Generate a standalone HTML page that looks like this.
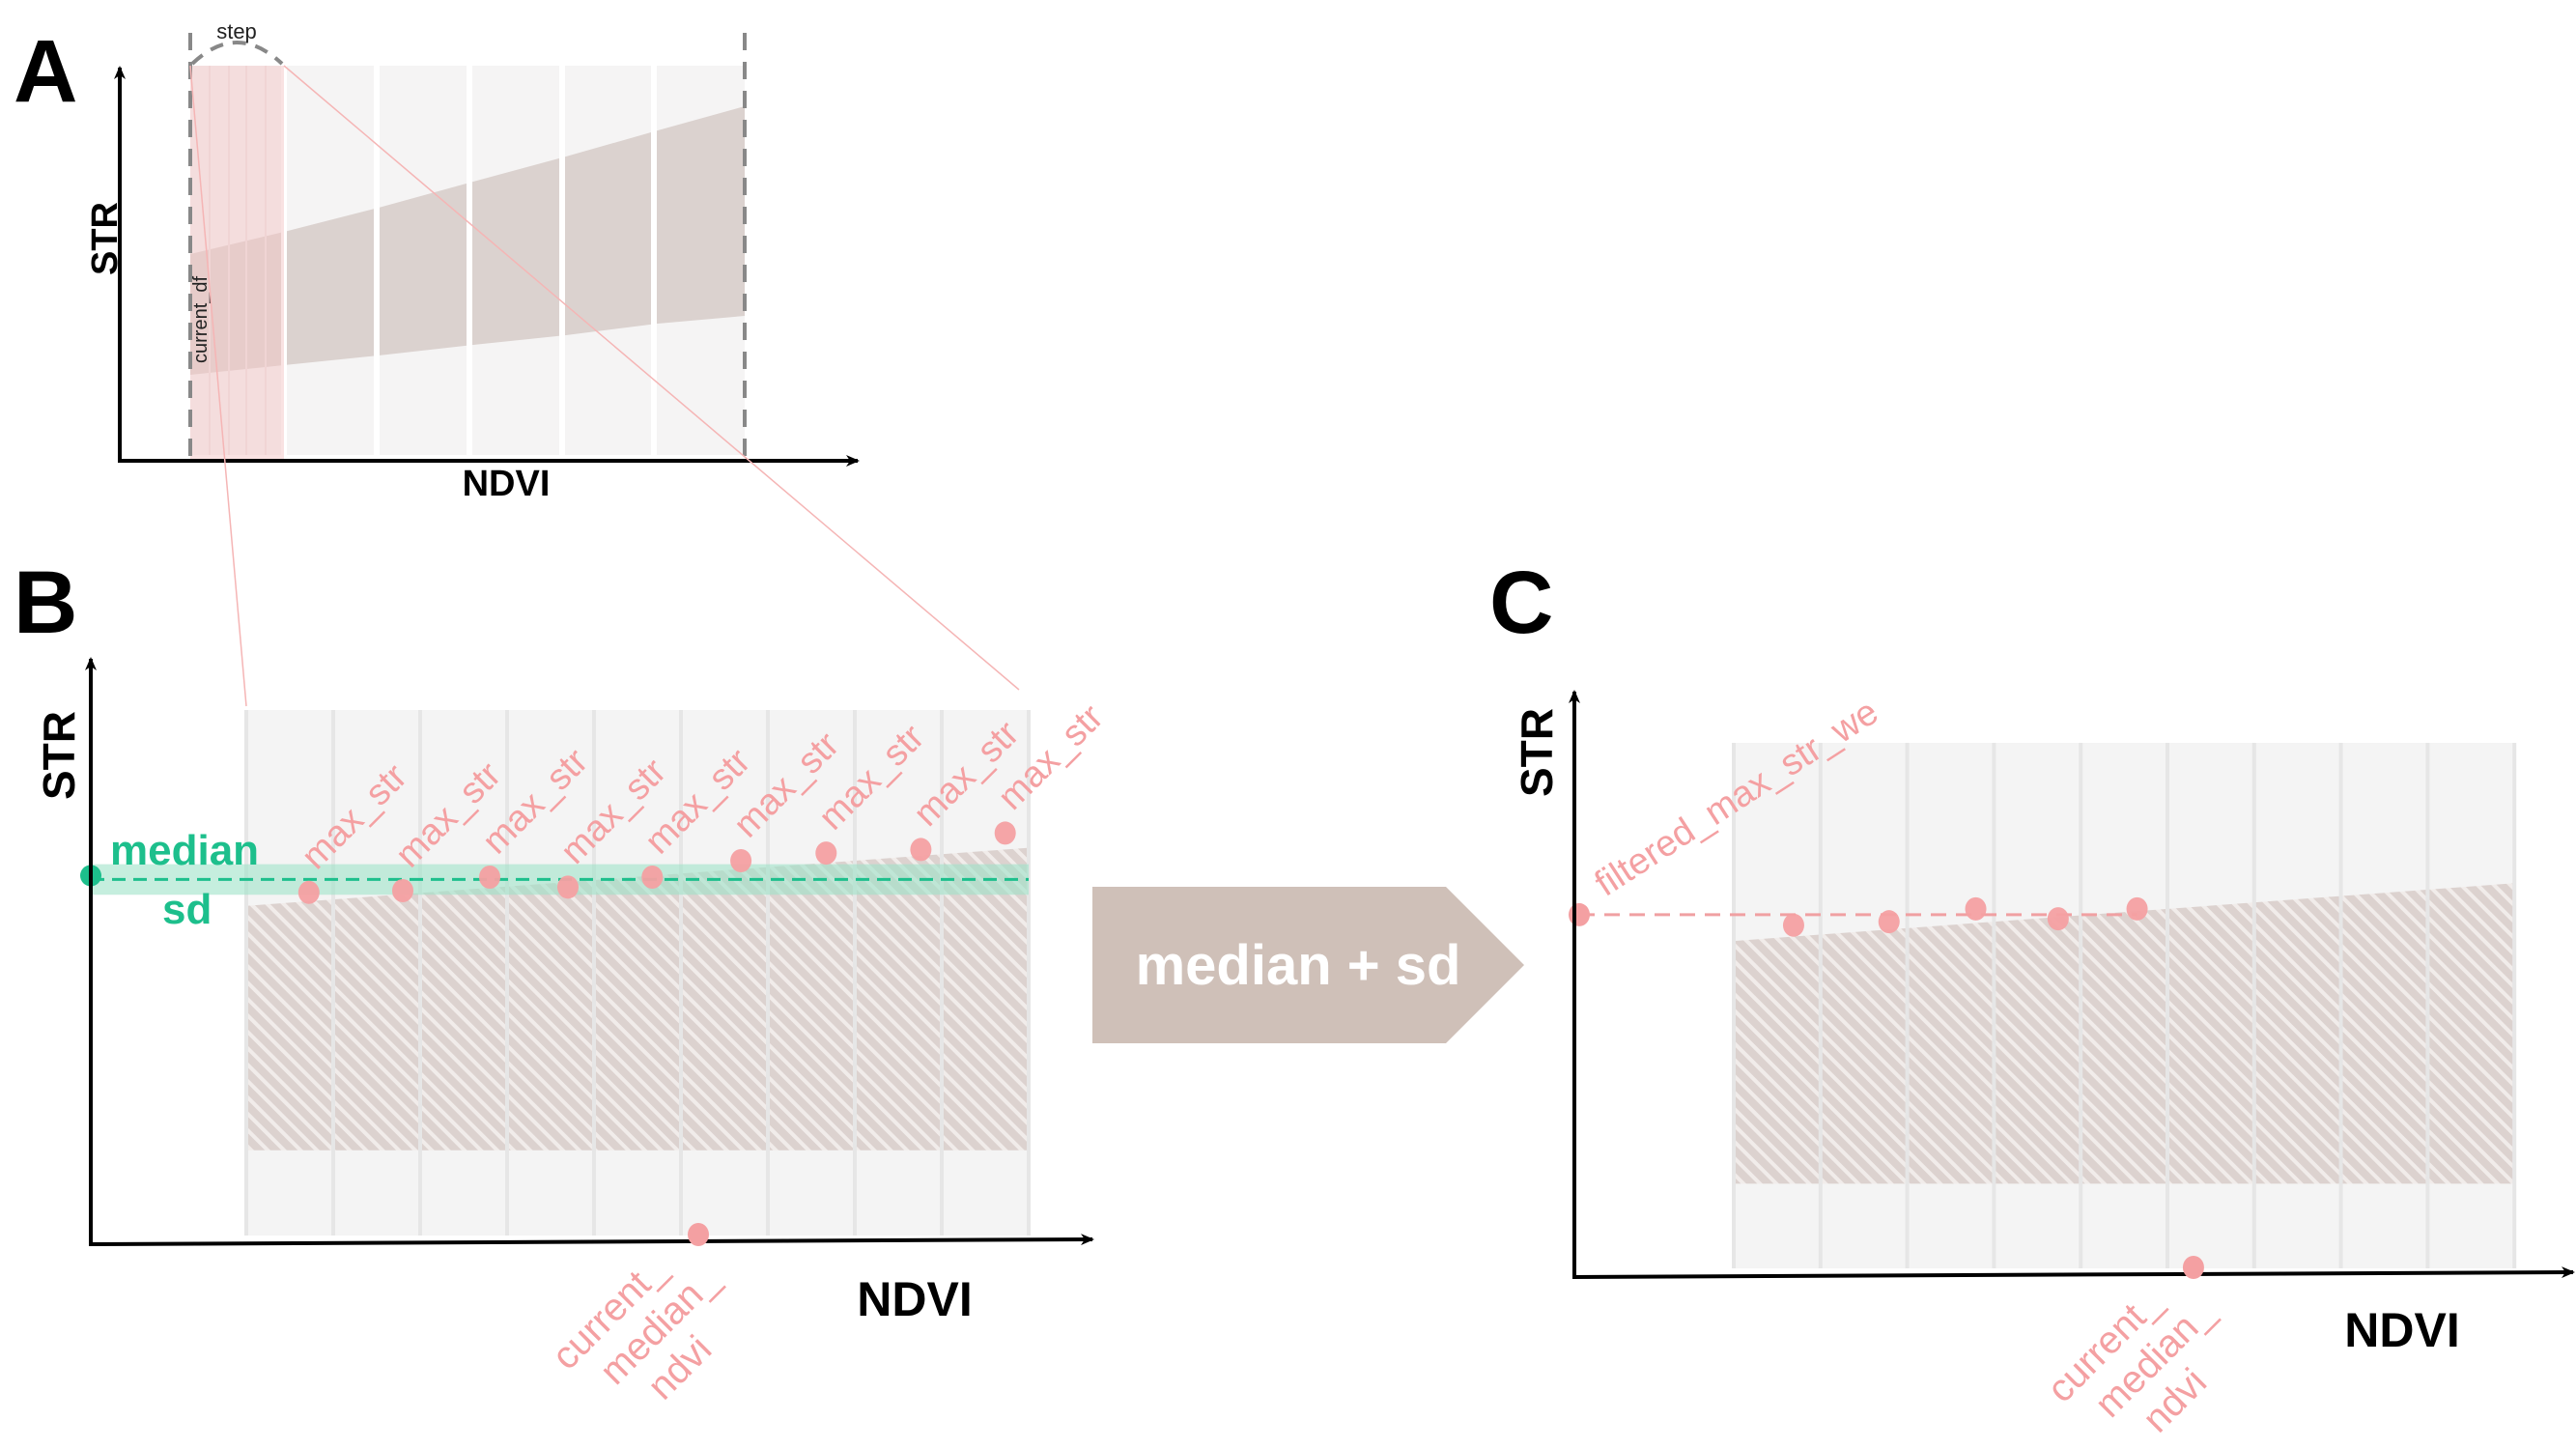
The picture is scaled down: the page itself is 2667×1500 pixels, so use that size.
<!DOCTYPE html>
<html><head><meta charset="utf-8"><style>
html,body{margin:0;padding:0;background:#fff;}
svg{display:block;}
text{font-family:"Liberation Sans",sans-serif;}
</style></head><body>
<svg id="fig" width="2667" height="1500" viewBox="0 0 2667 1500" xmlns="http://www.w3.org/2000/svg">
<defs>
<pattern id="hatch" patternUnits="userSpaceOnUse" width="12" height="12" patternTransform="rotate(-45)">
<rect width="12" height="12" fill="#dcd2cf"/>
<rect width="4" height="12" fill="#f1ecea"/>
</pattern>
<marker id="arr" markerWidth="14" markerHeight="12" refX="12" refY="6" orient="auto" markerUnits="userSpaceOnUse">
<path d="M0,0 L14,6 L0,12 L4,6 Z" fill="#000"/>
</marker>
</defs>

<!-- Panel A -->
<g>
<text x="14" y="105" font-size="92" font-weight="bold">A</text>
<rect x="197" y="68" width="574" height="403" fill="#f5f4f4"/>
<polygon points="197,263 294,240 392,215 490,188 586,162 681,135 771,110 771,327 681,335 586,347 490,357 392,368 294,378 197,388" fill="#dbd2cf"/>
<g stroke="#fff" stroke-width="6">
<line x1="294" y1="68" x2="294" y2="471"/><line x1="390" y1="68" x2="390" y2="471"/><line x1="486" y1="68" x2="486" y2="471"/><line x1="582" y1="68" x2="582" y2="471"/><line x1="677" y1="68" x2="677" y2="471"/>
</g>
<rect x="197" y="68" width="97" height="408" fill="#f4c6c6" opacity="0.5"/>
<g stroke="#f0d4d4" stroke-width="2"><line x1="217" y1="68" x2="217" y2="471"/><line x1="237" y1="68" x2="237" y2="471"/><line x1="255" y1="68" x2="255" y2="471"/><line x1="275" y1="68" x2="275" y2="471"/></g>
<line x1="197" y1="34" x2="197" y2="476" stroke="#888" stroke-width="4" stroke-dasharray="18,12"/>
<line x1="771" y1="34" x2="771" y2="476" stroke="#888" stroke-width="4" stroke-dasharray="18,12"/>
<path d="M199,66 Q245,22 292,66" fill="none" stroke="#888" stroke-width="4" stroke-dasharray="14,10"/>
<text x="245" y="40" font-size="22" text-anchor="middle" fill="#222">step</text>
<text transform="translate(214,376) rotate(-90)" font-size="20" fill="#222">current_df</text>
<line x1="124" y1="478" x2="124" y2="70" stroke="#000" stroke-width="4" marker-end="url(#arr)"/>
<line x1="122" y1="477" x2="888" y2="477" stroke="#000" stroke-width="4" marker-end="url(#arr)"/>
<text transform="translate(121,247) rotate(-90)" font-size="38" font-weight="bold" text-anchor="middle">STR</text>
<text x="524" y="513" font-size="38" font-weight="bold" text-anchor="middle">NDVI</text>
</g>
<line x1="197" y1="68" x2="255" y2="731" stroke="#f5b5b5" stroke-width="1.5"/>
<line x1="294" y1="68" x2="1055" y2="714" stroke="#f5b5b5" stroke-width="1.5"/>

<!-- Panel B -->
<g id="panelB">
<text x="14" y="655" font-size="92" font-weight="bold">B</text>
</g>

<!-- Arrow -->
<g>
<polygon points="1131,918 1497,918 1578,999 1497,1080 1131,1080" fill="#cfc0b8"/>
<text x="1344" y="1019" font-size="58" font-weight="bold" fill="#fff" text-anchor="middle">median + sd</text>
</g>

<!-- Panel C -->
<g id="panelC">
<text x="1542" y="655" font-size="92" font-weight="bold">C</text>
</g>
</svg>
<script>
// Panel B data
const bColumns = [0,1,2,3,4,5,6,7,8];
const bNdvi = [0.72,1.8,2.8,3.7,4.67,5.69,6.67,7.76,8.73];
const bMaxStr = [59.9,60.2,62.5,60.8,62.5,65.3,66.6,67.2,70.0];
const bMedian = 62.1;
const bSd = 2.6;
const bBandTop = [57.6,67.5];
const bBandBottom = 16;
const bCurrentNdvi = 5.2;
// Panel C data
const cColumns = [0,1,2,3,4,5,6,7,8];
const cNdvi = [0.69,1.79,2.79,3.74,4.65];
const cMaxStr = [60.3,60.9,63.1,61.4,63.1];
const cFiltered = 62.1;
const cBandTop = [57.6,67.5];
const cBandBottom = 16;
const cCurrentNdvi = 5.3;

const NS = 'http://www.w3.org/2000/svg';
function mk(parent, tag, attrs, text){
  const e = document.createElementNS(NS, tag);
  for (const k in attrs) e.setAttribute(k, attrs[k]);
  if (text !== undefined) e.textContent = text;
  parent.appendChild(e);
  return e;
}

function drawPanel(g, cfg){
  const x = v => cfg.x0 + v * cfg.colW;
  const y = v => cfg.yAxis0 - v * cfg.yPer;
  const nCols = cfg.columns.length;
  const bg = mk(g, 'rect', {x: x(0), y: cfg.plotTop, width: nCols*cfg.colW, height: cfg.plotBot - cfg.plotTop, fill: '#f4f4f4'});
  
  
  const band = mk(g, 'polygon', {points: `${x(0)},${y(cfg.bandTop[0])} ${x(nCols)},${y(cfg.bandTop[1])} ${x(nCols)},${y(cfg.bandBottom)} ${x(0)},${y(cfg.bandBottom)}`, fill: 'url(#hatch)'});
  
  
  cfg.columns.forEach(c => {
    const l = mk(g, 'line', {x1: x(c), y1: cfg.plotTop, x2: x(c), y2: cfg.plotBot, stroke: '#e6e6e6', 'stroke-width': 4});
    
    
  });
  const lr = mk(g, 'line', {x1: x(nCols), y1: cfg.plotTop, x2: x(nCols), y2: cfg.plotBot, stroke: '#e6e6e6', 'stroke-width': 4});
  
  
  cfg.extra && cfg.extra(x, y);
  const ya = mk(g, 'line', {x1: cfg.axisX, y1: cfg.yAxis0 + 2, x2: cfg.axisX, y2: cfg.yTop, stroke: '#000', 'stroke-width': 4, 'marker-end': 'url(#arr)'});
  
  
  const xa = mk(g, 'line', {x1: cfg.axisX - 2, y1: cfg.yAxis0, x2: cfg.xEnd, y2: cfg.yAxis0 - 5, stroke: '#000', 'stroke-width': 4, 'marker-end': 'url(#arr)'});
  
  
  cfg.ndvi.forEach((v, i) => {
    const cx = x(v), cy = y(cfg.str[i]);
    const c = mk(g, 'ellipse', {cx: cx, cy: cy, rx: 11, ry: 12, fill: '#f4a0a2', opacity: 0.95});
    
    
    if (cfg.pointLabels) {
      const t = mk(g, 'text', {transform: `translate(${cx+8},${cy-22}) rotate(-45)`, 'font-size': 38, fill: '#f4a0a2'}, 'max_str');
      
      
    }
  });
  const cd = mk(g, 'ellipse', {cx: x(cfg.current), cy: cfg.yAxis0 - 10, rx: 11, ry: 12, fill: '#f4a0a2'});
  
  
  const ct = mk(g, 'text', {transform: `translate(${x(cfg.current)-135},${cfg.yAxis0+132}) rotate(-45)`, 'font-size': 40, fill: '#f4a0a2'});
  
  
  ['current_', 'median_', 'ndvi'].forEach((s, i) => {
    mk(ct, 'tspan', {x: 24*i, y: 46*i}, s);
  });
  const st = mk(g, 'text', {transform: `translate(${cfg.strX},${cfg.strY}) rotate(-90)`, 'font-size': 46, 'font-weight': 'bold', 'text-anchor': 'middle'}, 'STR');
  
  
  const nt = mk(g, 'text', {x: cfg.ndviX, y: cfg.ndviY, 'font-size': 50, 'font-weight': 'bold', 'text-anchor': 'middle'}, 'NDVI');
  
  
}

const gB = document.getElementById('panelB');
drawPanel(gB, {
  p: 'panel-b', x0: 255, colW: 90, yAxis0: 1288, yPer: 6.08, plotTop: 735, plotBot: 1279,
  columns: bColumns, ndvi: bNdvi, str: bMaxStr, bandTop: bBandTop, bandBottom: bBandBottom,
  current: bCurrentNdvi, axisX: 94, yTop: 682, xEnd: 1131, pointLabels: true,
  strX: 77, strY: 782, ndviX: 947, ndviY: 1362,
  extra: (x, y) => {
    const sdr = mk(gB, 'rect', {x: 94, y: y(bMedian + bSd), width: x(9) - 94, height: y(bMedian - bSd) - y(bMedian + bSd), fill: '#9fe3c8', opacity: 0.6});
    
    
    const ml = mk(gB, 'line', {x1: 94, y1: y(bMedian), x2: x(9), y2: y(bMedian), stroke: '#1dbf8c', 'stroke-width': 3, 'stroke-dasharray': '14,8'});
    
    
    const md = mk(gB, 'circle', {cx: 94, cy: y(bMedian) - 4, r: 11, fill: '#1dbf8c'});
    
    
    const mt = mk(gB, 'text', {x: 114, y: 895, 'font-size': 44, 'font-weight': 'bold', fill: '#1dbf8c'}, 'median');
    
    
    const sdt = mk(gB, 'text', {x: 168, y: 956, 'font-size': 44, 'font-weight': 'bold', fill: '#1dbf8c'}, 'sd');
    
    
  }
});

const gC = document.getElementById('panelC');
drawPanel(gC, {
  p: 'panel-c', x0: 1795, colW: 89.8, yAxis0: 1322, yPer: 6.04, plotTop: 769, plotBot: 1313,
  columns: cColumns, ndvi: cNdvi, str: cMaxStr, bandTop: cBandTop, bandBottom: cBandBottom,
  current: cCurrentNdvi, axisX: 1630, yTop: 716, xEnd: 2664, pointLabels: false,
  strX: 1607, strY: 779, ndviX: 2487, ndviY: 1394,
  extra: (x, y) => {
    const fl = mk(gC, 'line', {x1: 1635, y1: y(cFiltered), x2: x(cNdvi[cNdvi.length-1]), y2: y(cFiltered), stroke: '#f0a0a2', 'stroke-width': 3, 'stroke-dasharray': '16,10'});
    
    
    const fd = mk(gC, 'ellipse', {cx: 1635, cy: y(cFiltered), rx: 11, ry: 12, fill: '#f4a0a2'});
    
    
    const ft = mk(gC, 'text', {transform: `translate(1662,${y(cFiltered)-18}) rotate(-33)`, 'font-size': 38, fill: '#f4a0a2'}, 'filtered_max_str_we');
    
    
  }
});
</script>
</body></html>
